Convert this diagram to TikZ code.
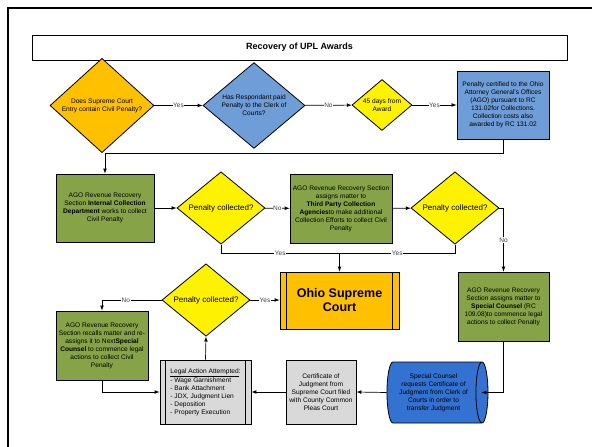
\documentclass[tikz,border=0pt]{standalone}
\usepackage{fontspec}
\setmainfont{Liberation Sans}
\usepackage{xcolor}
\usepackage{tikz}
\usetikzlibrary{arrows,calc,shapes.geometric}
\definecolor{courtorange}{HTML}{FFC000}
\definecolor{askblue}{HTML}{6F9DD8}
\definecolor{agogreen}{HTML}{86A447}
\definecolor{lightgrey}{HTML}{D9D9D9}
\definecolor{cylblue}{HTML}{3372D0}
\tikzset{
  box/.style={draw=black, line width=0.8pt, align=center, inner sep=1pt,
    font=\fontsize{6.6}{8}\selectfont},
  decision/.style={diamond, draw=black, line width=0.8pt, align=center, inner sep=0pt,
    font=\fontsize{6.6}{8}\selectfont},
  flow/.style={draw=black, line width=0.7pt, -latex},
  lbl/.style={fill=white, inner sep=0.6pt, text=black!75, font=\fontsize{6.5}{7}\selectfont}
}

\begin{document}
\begin{tikzpicture}[x=1pt, y=-1pt]
    \useasboundingbox (0,0) rectangle (592,447);
    \draw[line width=2.2pt] (8,447) -- (8,8) -- (592,8);

    % title
    \node[box, minimum width=535, minimum height=25, font=\fontsize{9}{10}\selectfont\bfseries]
        (title) at (299.5,47.5) {Recovery of UPL Awards};

    % top row
    \node[decision, fill=courtorange, minimum width=104, minimum height=77] (entry) at (102,105.5)
        {Does Supreme Court\\Entry contain Civil Penalty?};
    \node[decision, fill=askblue, minimum width=102, minimum height=77] (paid) at (254,105.5)
        {Has Respondant paid\\Penalty to the Clerk of\\Courts?};
    \node[decision, fill=yellow, minimum width=60, minimum height=46] (days) at (382,105)
        {45 days from\\Award};
    \node[box, fill=askblue, minimum width=92, minimum height=68] (certified) at (503,105)
        {Penalty certified to the Ohio\\Attorney General's Offices\\(AGO) pursuant to RC\\131.02for Collections.\\Collection costs also\\awarded by RC 131.02};

    % middle row
    \node[box, fill=agogreen, minimum width=98, minimum height=68] (internal) at (105,208)
        {AGO Revenue Recovery\\Section \textbf{Internal Collection}\\\textbf{Department} works to collect\\Civil Penalty};
    \node[decision, fill=yellow, minimum width=88, minimum height=66, font=\fontsize{8}{9}\selectfont]
        (collA) at (221,208) {Penalty collected?};
    \node[box, fill=agogreen, minimum width=102, minimum height=69] (thirdparty) at (341,208.5)
        {AGO Revenue Recovery Section\\assigns matter to\\\textbf{Third Party Collection}\\\textbf{Agencies}to make additional\\Collection Efforts to collect Civil\\Penalty};
    \node[decision, fill=yellow, minimum width=88, minimum height=66, font=\fontsize{8}{9}\selectfont]
        (collB) at (455,208) {Penalty collected?};

    % court
    \node[box, fill=courtorange, minimum width=119, minimum height=57, font=\fontsize{12.5}{14}\selectfont\bfseries]
        (court) at (339.5,300.5) {Ohio Supreme\\Court};
    \draw[line width=0.8pt] ([xshift=7pt]court.north west) -- ([xshift=7pt]court.south west);
    \draw[line width=0.8pt] ([xshift=-7pt]court.north east) -- ([xshift=-7pt]court.south east);

    \node[box, fill=agogreen, minimum width=91, minimum height=69] (special) at (503.5,306.5)
        {AGO Revenue Recovery\\Section assigns matter to\\\textbf{Special Counsel} (RC\\109.08)to commence legal\\actions to collect Penalty};
    \node[decision, fill=yellow, minimum width=88, minimum height=66, font=\fontsize{8}{9}\selectfont]
        (collC) at (206,300) {Penalty collected?};
    \node[box, fill=agogreen, minimum width=92, minimum height=69] (recall) at (102,345.5)
        {AGO Revenue Recovery\\Section recalls matter and re-\\assigns it to Next\textbf{Special}\\\textbf{Counsel} to commence legal\\actions to collect Civil\\Penalty};

    % bottom row
    \node[box, fill=lightgrey, minimum width=91, minimum height=64, align=left] (legal) at (205.5,392)
        {\underline{Legal Action Attempted}:\\- Wage Garnishment\\- Bank Attachment\\- JDX, Judgment Lien\\- Deposition\\- Property Execution};
    \draw[line width=0.8pt] ([xshift=6pt]legal.north west) -- ([xshift=6pt]legal.south west);
    \draw[line width=0.8pt] ([xshift=-6pt]legal.north east) -- ([xshift=-6pt]legal.south east);
    \node[box, fill=lightgrey, minimum width=70, minimum height=64] (filed) at (321,392)
        {Certificate of\\Judgment from\\Supreme Court filed\\with County Common\\Pleas Court};
    \node[cylinder, draw=black, line width=0.8pt, fill=cylblue, aspect=0.3, align=center, inner sep=1pt,
        minimum width=61, minimum height=101, font=\fontsize{6.6}{8}\selectfont]
        (request) at (433.5,392.5)
        {Special Counsel\\requests Certificate of\\Judgment from Clerk of\\Courts in order to\\transfer Judgment};

    % Conectores
    \coordinate (turn) at (503,153);
    \coordinate (join) at (339.5,253);

    \draw[flow] (entry) -- node[lbl] {Yes} (paid);
    \draw[flow] (paid) -- node[lbl] {No} (days);
    \draw[flow] (days) -- node[lbl] {Yes} (certified);
    \draw[flow] (certified.south) -- (turn) -| (internal.north);
    \draw[flow] (internal) -- (collA);
    \draw[flow] (collA) -- node[lbl] {No} (thirdparty);
    \draw[flow] (thirdparty) -- (collB);
    \draw[flow] (collB.east) -| node[lbl, pos=0.75] {No} (special.north);
    \draw[line width=0.7pt] (collA.south) |- node[lbl, pos=0.75] {Yes} (join);
    \draw[line width=0.7pt] (collB.south) |- node[lbl, pos=0.75] {Yes} (join);
    \draw[flow] (join) -- (court.north);
    \draw[flow] (special.south) |- ([xshift=-7pt]request.east);
    \draw[flow] (request.west) -- (filed.east);
    \draw[flow] (filed.west) -- (legal.east);
    \draw[flow] (legal.north) -- (collC.south);
    \draw[flow] (collC.east) -- node[lbl] {Yes} (collC.east -| court.west);
    \draw[flow] (collC.west) -| node[lbl, pos=0.3] {No} (recall.north);
    \draw[flow] (recall.south) |- (legal.west);
\end{tikzpicture}
\end{document}
